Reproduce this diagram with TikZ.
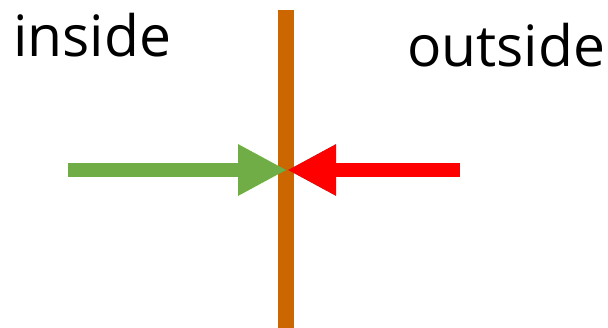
\documentclass[tikz,border=0pt]{standalone}
\usepackage{fontspec}
\setmainfont{Open Sans}
\usetikzlibrary{arrows.meta}
\definecolor{wallorange}{HTML}{CC6600}
\definecolor{ingreen}{HTML}{70AD47}
\definecolor{outred}{HTML}{FF0000}
\tikzset{
  label text/.style={inner sep=0pt, font=\fontsize{57}{62}\selectfont},
  push/.style={line width=14pt, -{Triangle[length=49pt,width=48pt]}},
}
\begin{document}
\begin{tikzpicture}[x=1pt,y=-1pt]
  \useasboundingbox (0,0) rectangle (608,328);
  % membrane
  \coordinate (top) at (286,10);
  \coordinate (bottom) at (286,328);
  \draw[wallorange, line width=16pt] (top) -- (bottom);
  % side labels
  \node[label text, anchor=base west] (inside) at (13,57) {inside};
  \node[label text, anchor=base west] (outside) at (407,67) {outside};
  % opposing pushes meeting at the membrane
  \coordinate (meet) at (287,170);
  \coordinate (greenstart) at (68,170);
  \coordinate (redstart) at (460,170);
  \draw[push, ingreen] (greenstart) -- (meet);
  \draw[push, outred] (redstart) -- (meet);
\end{tikzpicture}
\end{document}
